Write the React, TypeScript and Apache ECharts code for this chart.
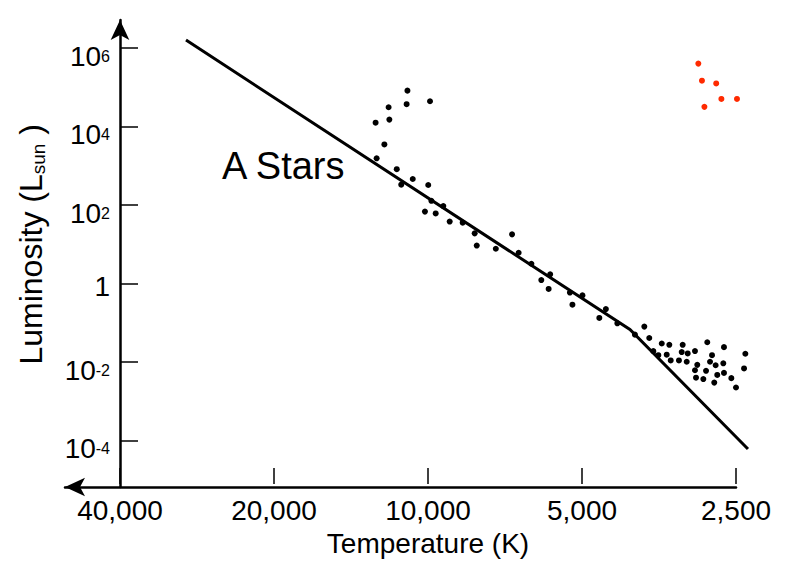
import React, { useEffect, useRef } from 'react';
import * as echarts from 'echarts';

const FONT = '"Liberation Sans", Arial, Helvetica, sans-serif';

// Temperature axis ticks (K), evenly spaced in log scale (factor 2)
const xTickLabels = ['2,500', '5,000', '10,000', '20,000', '40,000'];
const xBaseTemp = 2500;
// Luminosity axis ticks (powers of ten)
const yTickExponents = [-4, -2, 0, 2, 4, 6];

// Stars (black dots)
const blackTemps = [
  10970, 11010, 9910, 11940, 11900, 12660, 12170, 12600, 11510, 11280, 10710,
  9990, 9850, 10140, 9660, 9335, 9070, 8555, 8105, 8030, 7370, 6850, 6650,
  6280, 6005, 5810, 5770, 5280, 5220, 4990, 4625, 4490, 4265, 3940, 3777,
  3694, 3627, 3546, 3492, 3375, 3415, 3354, 3232, 3178, 3192, 3107, 3121,
  3007, 2976, 3007, 2861, 2993, 2896, 2845, 2785, 2810, 2740, 2647, 2720,
  2639, 2757, 2639, 2553, 2500, 2397, 2411,
];
const blackLums = [
  8.2e4, 3.7e4, 4.4e4, 3.1e4, 1.5e4, 1.25e4, 3500, 1550, 820, 330, 460, 324,
  128, 68, 61, 94, 38, 35.5, 19, 9.3, 7.7, 17.9, 6.1, 3.2, 1.23, 0.73, 1.72,
  0.59, 0.29, 0.5, 0.133, 0.224, 0.097, 0.05, 0.08, 0.041, 0.019, 0.015,
  0.0297, 0.0275, 0.0154, 0.011, 0.011, 0.0275, 0.018, 0.0166, 0.0102, 0.0191,
  0.0085, 0.0062, 0.006, 0.004, 0.0037, 0.032, 0.015, 0.0102, 0.0083, 0.0093,
  0.0047, 0.0053, 0.003, 0.024, 0.0039, 0.00225, 0.0163, 0.0069,
];

// Red giants (red dots)
const redTemps = [2962, 2914, 2733, 2670, 2489, 2882];
const redLums = [4.0e5, 1.47e5, 1.25e5, 5.05e4, 5.05e4, 3.17e4];

// Main sequence line
const msTemps = [29720, 4030, 2369];
const msLums = [1.59e6, 0.0675, 6.1e-5];

const toX = (t: number) => Math.log2(t / xBaseTemp);
const toY = (l: number) => Math.log10(l);
const pairs = (ts: number[], ls: number[]) => ts.map((t, i) => [toX(t), toY(ls[i])]);

export default function App() {
  const ref = useRef<HTMLDivElement>(null);

  useEffect(() => {
    if (!ref.current) return;
    const chart = echarts.init(ref.current, null, { renderer: 'svg' });
    const axisColor = '#000';
    const msData = pairs(msTemps, msLums);

    chart.setOption({
      animation: false,
      backgroundColor: '#fff',
      grid: [
        { left: 120, right: 54, top: 48, bottom: 118.5 },
        { left: 65, right: 54, top: 20, bottom: 75 },
      ],
      xAxis: [
        {
          gridIndex: 0,
          type: 'value',
          inverse: true,
          min: 0,
          max: xTickLabels.length - 1,
          interval: 1,
          position: 'bottom',
          offset: 43.5,
          axisLine: { show: false, onZero: false },
          axisTick: { show: true, inside: true, length: 16, lineStyle: { color: axisColor, width: 1.5 } },
          axisLabel: {
            margin: 12,
            color: '#000',
            fontSize: 28,
            fontFamily: FONT,
            formatter: (v: number) => xTickLabels[Math.round(v)] ?? '',
          },
          splitLine: { show: false },
          name: 'Temperature (K)',
          nameLocation: 'middle',
          nameGap: 39,
          nameTextStyle: { color: '#000', fontSize: 28, fontFamily: FONT },
        },
        {
          gridIndex: 1,
          type: 'value',
          min: 0,
          max: 1,
          axisLine: {
            show: true,
            onZero: false,
            symbol: ['arrow', 'none'],
            symbolSize: [14, 20],
            lineStyle: { color: axisColor, width: 2.5 },
          },
          axisTick: { show: false },
          axisLabel: { show: false },
          splitLine: { show: false },
        },
      ],
      yAxis: [
        {
          gridIndex: 0,
          type: 'value',
          min: yTickExponents[0],
          max: yTickExponents[yTickExponents.length - 1],
          interval: 2,
          axisLine: { show: false, onZero: false },
          axisTick: { show: true, inside: true, length: 18, lineStyle: { color: axisColor, width: 1.5 } },
          axisLabel: {
            margin: 10,
            verticalAlign: 'top',
            formatter: (v: number) => (v === 0 ? '{one|1}' : `{b|10}{s|${v}}`),
            rich: {
              one: { fontSize: 28, lineHeight: 6, fontFamily: FONT, color: '#000' },
              b: { fontSize: 28, lineHeight: 16, fontFamily: FONT, color: '#000' },
              s: { fontSize: 16, lineHeight: 10, fontFamily: FONT, color: '#000', verticalAlign: 'top' },
            },
          },
          splitLine: { show: false },
          name: 'Luminosity (L{sub|sun} )',
          nameLocation: 'middle',
          nameGap: 72,
          nameTextStyle: {
            color: '#000',
            fontSize: 32,
            lineHeight: 34,
            fontFamily: FONT,
            rich: {
              sub: { fontSize: 19, lineHeight: 19, fontFamily: FONT, color: '#000', verticalAlign: 'bottom' },
            },
          },
        },
        {
          gridIndex: 1,
          type: 'value',
          min: 0,
          max: 1,
          offset: -55,
          axisLine: {
            show: true,
            onZero: false,
            symbol: ['none', 'arrow'],
            symbolSize: [14, 20],
            lineStyle: { color: axisColor, width: 2.5 },
          },
          axisTick: { show: false },
          axisLabel: { show: false },
          splitLine: { show: false },
        },
      ],
      series: [
        {
          type: 'custom',
          xAxisIndex: 0,
          yAxisIndex: 0,
          data: msData,
          encode: { x: 0, y: 1 },
          clip: false,
          z: 3,
          renderItem: (params: any, api: any) => {
            if (params.dataIndex !== 0) return null;
            const points = msData.map((p) => api.coord(p));
            return {
              type: 'polyline',
              shape: { points },
              style: { stroke: '#000', lineWidth: 3, fill: null, lineJoin: 'miter' },
            };
          },
        },
        {
          type: 'scatter',
          xAxisIndex: 0,
          yAxisIndex: 0,
          data: pairs(blackTemps, blackLums),
          symbolSize: 6,
          clip: false,
          itemStyle: { color: '#000', opacity: 1 },
          z: 4,
        },
        {
          type: 'scatter',
          xAxisIndex: 0,
          yAxisIndex: 0,
          data: pairs(redTemps, redLums),
          symbolSize: 6,
          clip: false,
          itemStyle: { color: '#ff2a00', opacity: 1 },
          z: 4,
        },
      ],
      graphic: [
        {
          type: 'text',
          x: 222,
          y: 147,
          style: {
            text: 'A Stars',
            fontSize: 38,
            fontFamily: FONT,
            fill: '#000',
            align: 'left',
            verticalAlign: 'top',
          },
        },
      ],
    });

    return () => chart.dispose();
  }, []);

  return (
    <div
      ref={ref}
      style={{ position: 'fixed', left: 0, top: 0, width: 790, height: 562, background: '#fff' }}
    />
  );
}
